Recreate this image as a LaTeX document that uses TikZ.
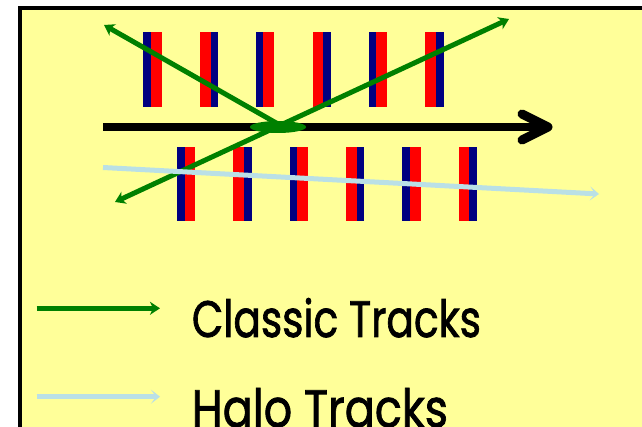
\documentclass[tikz,border=0pt]{standalone}
\usepackage{fontspec}
\setmainfont{Poppins}
\newfontfamily\legendfont[FakeBold=1.6]{Poppins}
\usetikzlibrary{arrows.meta}
\definecolor{bgyellow}{RGB}{255,255,153}
\definecolor{barblue}{RGB}{0,0,128}
\definecolor{barred}{RGB}{255,0,0}
\definecolor{trkgreen}{RGB}{0,128,0}
\definecolor{halo}{RGB}{186,224,230}
\tikzset{
  bluebar/.style={fill=barblue},
  redbar/.style={fill=barred},
  greentrack/.style={draw=trkgreen, line width=5pt,
    arrows={-Stealth[length=10pt,width=13pt,inset=3pt]}},
  halotrack/.style={draw=halo, line width=5pt,
    arrows={-Stealth[length=9pt,width=14pt,inset=5pt]}},
  axisline/.style={draw=black, line width=8pt},
  axishead/.style={draw=black, line width=9pt, line cap=round, line join=round},
  legendtext/.style={anchor=base west, inner sep=0pt, text=black, font=\legendfont}
}
\begin{document}
\begin{tikzpicture}[x=1pt,y=-1pt]
\useasboundingbox (0,0) rectangle (642,427);
\clip (0,0) rectangle (642,427);
\fill[white] (0,0) rectangle (642,427);
\draw[line width=4pt, fill=bgyellow] (20,8) rectangle (700,500);

% upper detector layers
\foreach \x [count=\i] in {143.3,200,255.7,312.7,368.7,425.3}{
  \ifodd\i
    \fill[bluebar] (\x,32.3) rectangle ++(7.7,74.4);
    \fill[redbar] (\x+7.7,32.3) rectangle ++(10.6,74.4);
  \else
    \fill[redbar] (\x,32.3) rectangle ++(10.6,74.4);
    \fill[bluebar] (\x+10.6,32.3) rectangle ++(7.7,74.4);
  \fi
}
% lower detector layers
\foreach \x [count=\i] in {177,233.3,289.7,346,402.3,458.7}{
  \ifodd\i
    \fill[bluebar] (\x,146.7) rectangle ++(7.7,74);
    \fill[redbar] (\x+7.7,146.7) rectangle ++(10.6,74);
  \else
    \fill[redbar] (\x,146.7) rectangle ++(10.6,74);
    \fill[bluebar] (\x+10.6,146.7) rectangle ++(7.7,74);
  \fi
}

% beam axis
\coordinate (axstart) at (103,127);
\coordinate (axend) at (546,127);
\coordinate (headup) at (522,114);
\coordinate (headtip) at (548,127);
\coordinate (headdown) at (522,140);
\draw[axisline] (axstart) -- (axend);
\draw[axishead] (headup) -- (headtip) -- (headdown);

% interaction point
\fill[trkgreen] (278,127) ellipse (28pt and 6pt);

% classic tracks
\coordinate (v1) at (285,128);
\coordinate (t1) at (104,25);
\coordinate (t2a) at (115,202);
\coordinate (t2b) at (509,19);
\draw[greentrack] (v1) -- (t1);
\draw[greentrack, arrows={Stealth[length=10pt,width=13pt,inset=3pt]-Stealth[length=10pt,width=13pt,inset=3pt]}] (t2a) -- (t2b);

% halo track
\coordinate (h1) at (103,167.5);
\coordinate (h2) at (599,194);
\draw[halotrack] (h1) -- (h2);

% legend
\coordinate (lg1s) at (36.7,308.3);
\coordinate (lg1e) at (160,308.3);
\coordinate (lg2s) at (36.7,396.7);
\coordinate (lg2e) at (160,396.7);
\draw[greentrack] (lg1s) -- (lg1e);
\draw[halotrack] (lg2s) -- (lg2e);
\node[legendtext] (lbl1) at (191.7,337) {\resizebox{289pt}{39pt}{Classic Tracks}};
\node[legendtext] (lbl2) at (191.7,427) {\resizebox{256pt}{39pt}{Halo Tracks}};
\end{tikzpicture}
\end{document}
